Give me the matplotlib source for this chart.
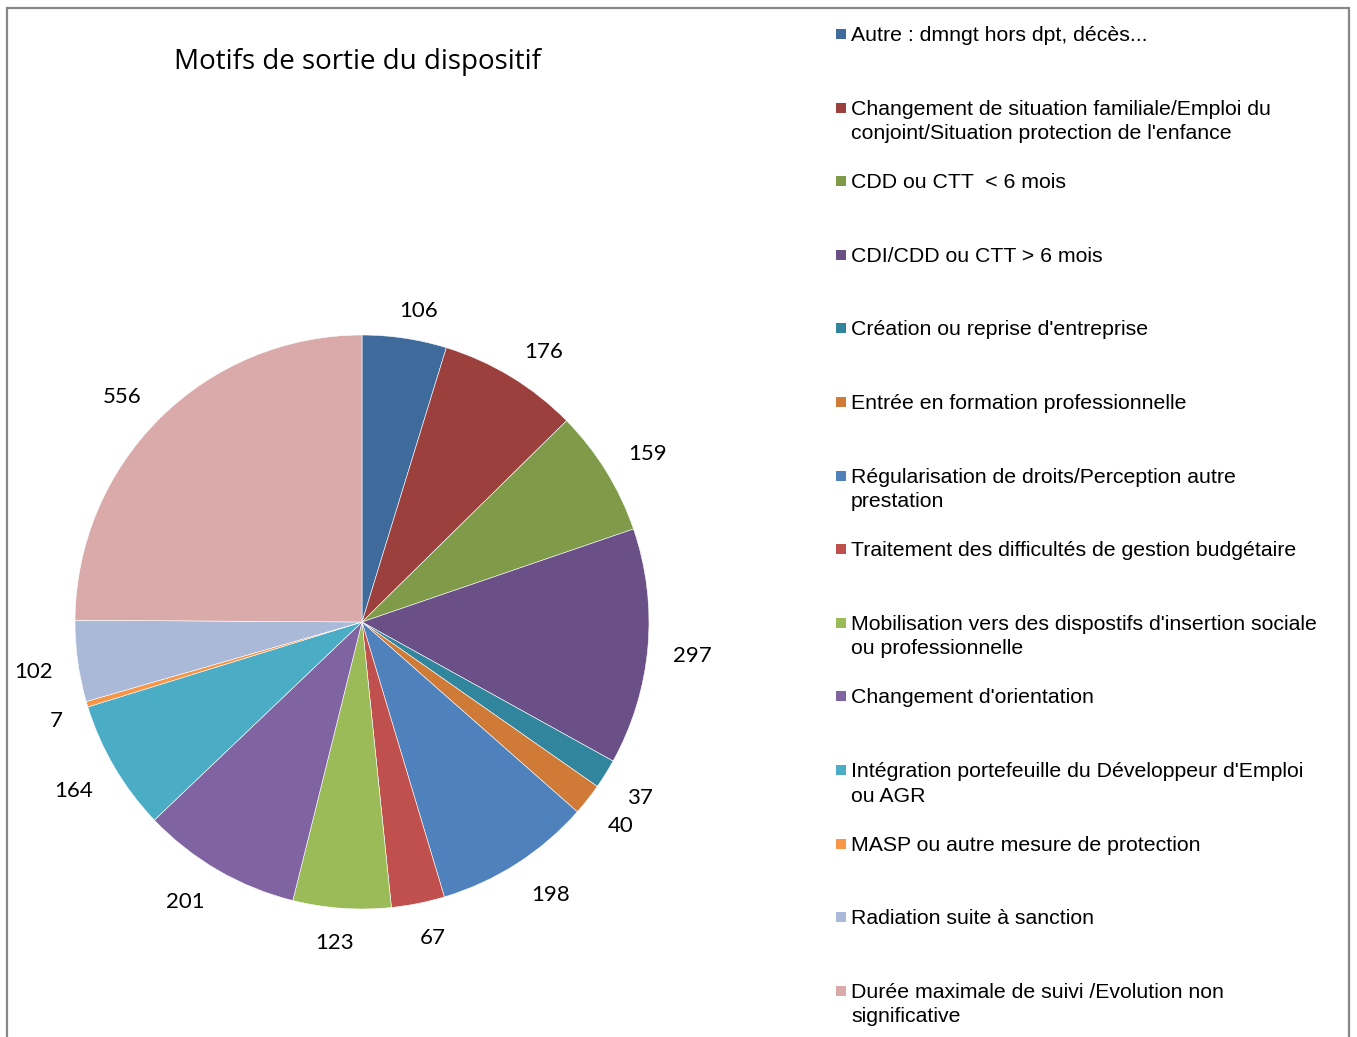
import numpy as np
import matplotlib.pyplot as plt
from matplotlib.patches import Rectangle

# data, clockwise from the top
values = [106, 176, 159, 297, 37, 40, 198, 67, 123, 201, 164, 7, 102, 556]
labels = [
    "Autre : dmngt hors dpt, décès...",
    "Changement de situation familiale/Emploi du\nconjoint/Situation protection de l'enfance",
    "CDD ou CTT  < 6 mois",
    "CDI/CDD ou CTT > 6 mois",
    "Création ou reprise d'entreprise",
    "Entrée en formation professionnelle",
    "Régularisation de droits/Perception autre\nprestation",
    "Traitement des difficultés de gestion budgétaire",
    "Mobilisation vers des dispostifs d'insertion sociale\nou professionnelle",
    "Changement d'orientation",
    "Intégration portefeuille du Développeur d'Emploi\nou AGR",
    "MASP ou autre mesure de protection",
    "Radiation suite à sanction",
    "Durée maximale de suivi /Evolution non\nsignificative",
]
colors = ["#3F6A9C", "#9C403E", "#7F9A48", "#6A5086", "#31869D", "#D07A37",
          "#4F81BD", "#C0504D", "#9BBB59", "#8064A2", "#4BACC6", "#F79646",
          "#AAB9D7", "#D9AAA9"]
title = "Motifs de sortie du dispositif"

W, H = 1357, 1037
fig = plt.figure(figsize=(W / 100, H / 100), dpi=100)

# outer frame
fig.add_artist(Rectangle((7 / W, -0.02), (1349 - 7) / W, 1.02 - 8 / H,
                         transform=fig.transFigure, fill=False,
                         edgecolor="#878787", linewidth=1.6))

# pie
cx, cy, r = 362, 622, 287
ax = fig.add_axes([(cx - r) / W, (H - cy - r) / H, 2 * r / W, 2 * r / H])
wedges, _ = ax.pie(values, colors=colors, startangle=90, counterclock=False,
                   wedgeprops=dict(edgecolor="white", linewidth=0.4))
ax.set_xlim(-1, 1)
ax.set_ylim(-1, 1)
ax.set_aspect("equal")

# data labels outside the pie, box pushed out from an anchor near the rim
renderer = fig.canvas.get_renderer()
rho = r + 21
for w, v in zip(wedges, values):
    a = np.deg2rad((w.theta1 + w.theta2) / 2)
    c, s = np.cos(a), np.sin(a)
    t = ax.text(0, 0, str(v), ha="center", va="center", fontsize=16,
                family="Lato", color="black")
    bb = t.get_window_extent(renderer)
    hw, hh = bb.width / 2 + 4, 10
    px = rho * c + hw * np.tanh(3.5 * c)
    py = rho * s + hh * np.tanh(3.5 * s) - 3.5
    t.set_position((px / r, py / r))

fig.text(357 / W, 1 - 62 / H, title, ha="center", va="center",
         fontsize=20, family="Open Sans")

# legend drawn by hand: evenly spaced entries
x_sq, x_txt = 836, 851
y0, step = 34, 73.6
for i, (lab, c) in enumerate(zip(labels, colors)):
    y = y0 + i * step
    fig.add_artist(Rectangle((x_sq / W, 1 - (y + 5) / H), 10 / W, 10 / H,
                             transform=fig.transFigure, facecolor=c,
                             edgecolor="none"))
    fig.text(x_txt / W, 1 - (y - 8) / H, lab, ha="left", va="top",
             fontsize=15.3, family="Liberation Sans", linespacing=1.37)

fig.savefig("out.png", dpi=100)
